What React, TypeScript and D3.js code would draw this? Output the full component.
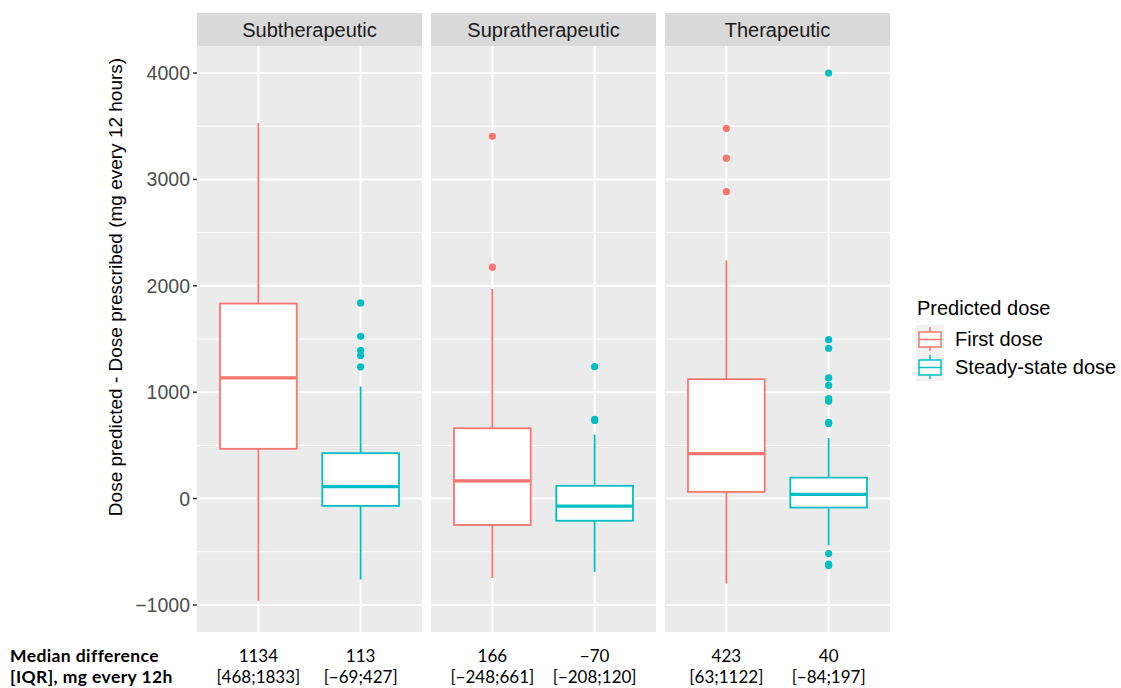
import React from 'react';
import * as d3 from 'd3';

// facets and groups
const facets = ['Subtherapeutic', 'Supratherapeutic', 'Therapeutic'];
const doses = ['First dose', 'Steady-state dose'];
const doseColors = ['#F8766D', '#00BFC4'];

// box stats per facet: [first dose, steady-state dose]
const q1 = [[468, -69], [-248, -208], [63, -84]];
const medians = [[1134, 113], [166, -70], [423, 40]];
const q3 = [[1833, 427], [661, 120], [1122, 197]];
const whiskerLow = [[-960, -761], [-746, -689], [-799, -439]];
const whiskerHigh = [[3530, 1053], [1970, 601], [2240, 570]];
const outliers = [
  [[], [1839, 1525, 1394, 1344, 1238]],
  [[3405, 2175], [1240, 745, 735]],
  [[3480, 3200, 2885], [4000, 1494, 1413, 1134, 1065, 940, 914, 717, 705, -517, -615, -630]],
];

const yTicks = [-1000, 0, 1000, 2000, 3000, 4000];
const yMinor = [-500, 500, 1500, 2500, 3500];

// table under the chart, one column per box
const tableRowLabels = ['Median difference', '[IQR], mg every 12h'];
const tableMedians = [['1134', '113'], ['166', '\u221270'], ['423', '40']];
const tableIqr = [['[468;1833]', '[\u221269;427]'], ['[\u2212248;661]', '[\u2212208;120]'], ['[63;1122]', '[\u221284;197]']];

// layout
const panelLeft = 197;
const panelW = 225;
const panelGap = 9;
const panelTop = 46;
const panelBottom = 632;
const stripTop = 13;
const row1Y = 662;
const row2Y = 683;

const font = '"Liberation Sans", Arial, sans-serif';
const tableFont = 'Lato, sans-serif';

export default function App() {
  const y = d3.scaleLinear().domain([-1254, 4254]).range([panelBottom, panelTop]);
  // discrete x in each panel: 2 levels, 0.6 units of expansion each side
  const x = d3.scalePoint().domain(doses).range([panelW * 0.6 / 2.2, panelW * 1.6 / 2.2]);
  const boxW = (panelW / 2.2) * 0.75;
  const px = (fi: number) => panelLeft + fi * (panelW + panelGap);

  return (
    <svg width={1121} height={688} style={{ display: 'block', position: 'absolute', left: 0, top: 0 }}>
      <rect width={1121} height={688} fill="#fff" />
      {facets.map((f, fi) => (
        <g key={f} transform={`translate(${px(fi)},0)`}>
          <rect x={0} y={stripTop} width={panelW} height={panelTop - stripTop} fill="#d9d9d9" />
          <text x={panelW / 2} y={(stripTop + panelTop) / 2} dy="0.35em" textAnchor="middle"
            fontFamily={font} fontSize={20} fill="#1a1a1a">{f}</text>
          <rect x={0} y={panelTop} width={panelW} height={panelBottom - panelTop} fill="#ebebeb" />
          {yMinor.map(t => (
            <line key={'m' + t} x1={0} x2={panelW} y1={y(t)} y2={y(t)} stroke="#fff" strokeWidth={1} />
          ))}
          {yTicks.map(t => (
            <line key={'t' + t} x1={0} x2={panelW} y1={y(t)} y2={y(t)} stroke="#fff" strokeWidth={2} />
          ))}
          {doses.map(d => (
            <line key={'v' + d} x1={x(d)} x2={x(d)} y1={panelTop} y2={panelBottom} stroke="#fff" strokeWidth={2} />
          ))}
          {doses.map((d, di) => {
            const c = x(d) as number;
            const col = doseColors[di];
            return (
              <g key={d}>
                <line x1={c} x2={c} y1={y(q3[fi][di])} y2={y(whiskerHigh[fi][di])} stroke={col} strokeWidth={1.8} />
                <line x1={c} x2={c} y1={y(q1[fi][di])} y2={y(whiskerLow[fi][di])} stroke={col} strokeWidth={1.8} />
                <rect x={c - boxW / 2} y={y(q3[fi][di])} width={boxW} height={y(q1[fi][di]) - y(q3[fi][di])}
                  fill="#fff" stroke={col} strokeWidth={1.8} />
                <line x1={c - boxW / 2} x2={c + boxW / 2} y1={y(medians[fi][di])} y2={y(medians[fi][di])}
                  stroke={col} strokeWidth={3.2} />
                {outliers[fi][di].map((v, k) => (
                  <circle key={k} cx={c} cy={y(v)} r={3.6} fill={col} />
                ))}
                <text x={c} y={row1Y} textAnchor="middle" fontFamily={tableFont} fontSize={17} fill="#000">
                  {tableMedians[fi][di]}
                </text>
                <text x={c} y={row2Y} textAnchor="middle" fontFamily={tableFont} fontSize={17} fill="#000">
                  {tableIqr[fi][di]}
                </text>
              </g>
            );
          })}
        </g>
      ))}

      {/* y axis */}
      {yTicks.map(t => (
        <g key={t}>
          <line x1={panelLeft - 4} x2={panelLeft} y1={y(t)} y2={y(t)} stroke="#333" strokeWidth={1.5} />
          <text x={panelLeft - 7} y={y(t)} dy="0.36em" textAnchor="end" fontFamily={font} fontSize={19.5}
            fill="#4d4d4d">{d3.format('')(t).replace('-', '\u2212')}</text>
        </g>
      ))}
      <text transform={`translate(115,287) rotate(-90)`} dy="0.35em" textAnchor="middle" fontFamily={font}
        fontSize={19} fill="#000">Dose predicted - Dose prescribed (mg every 12 hours)</text>

      {/* legend */}
      <text x={917} y={315} fontFamily={font} fontSize={20} fill="#000">Predicted dose</text>
      {doses.map((d, di) => {
        const ky = 325 + di * 28;
        const col = doseColors[di];
        return (
          <g key={d}>
            <rect x={916} y={ky} width={28} height={28} fill="#f2f2f2" />
            <line x1={930} x2={930} y1={ky + 2} y2={ky + 26} stroke={col} strokeWidth={1.5} />
            <rect x={919} y={ky + 7} width={22} height={15} fill="#fff" stroke={col} strokeWidth={1.5} />
            <line x1={919} x2={941} y1={ky + 14.5} y2={ky + 14.5} stroke={col} strokeWidth={1.5} />
            <text x={955} y={ky + 14} dy="0.36em" fontFamily={font} fontSize={20} fill="#000">{d}</text>
          </g>
        );
      })}

      {/* table row labels */}
      {tableRowLabels.map((s, i) => (
        <text key={s} x={10} y={i === 0 ? row1Y : row2Y} fontFamily={tableFont} fontWeight="bold" fontSize={17.5}
          letterSpacing={0.4} fill="#000">{s}</text>
      ))}
    </svg>
  );
}
